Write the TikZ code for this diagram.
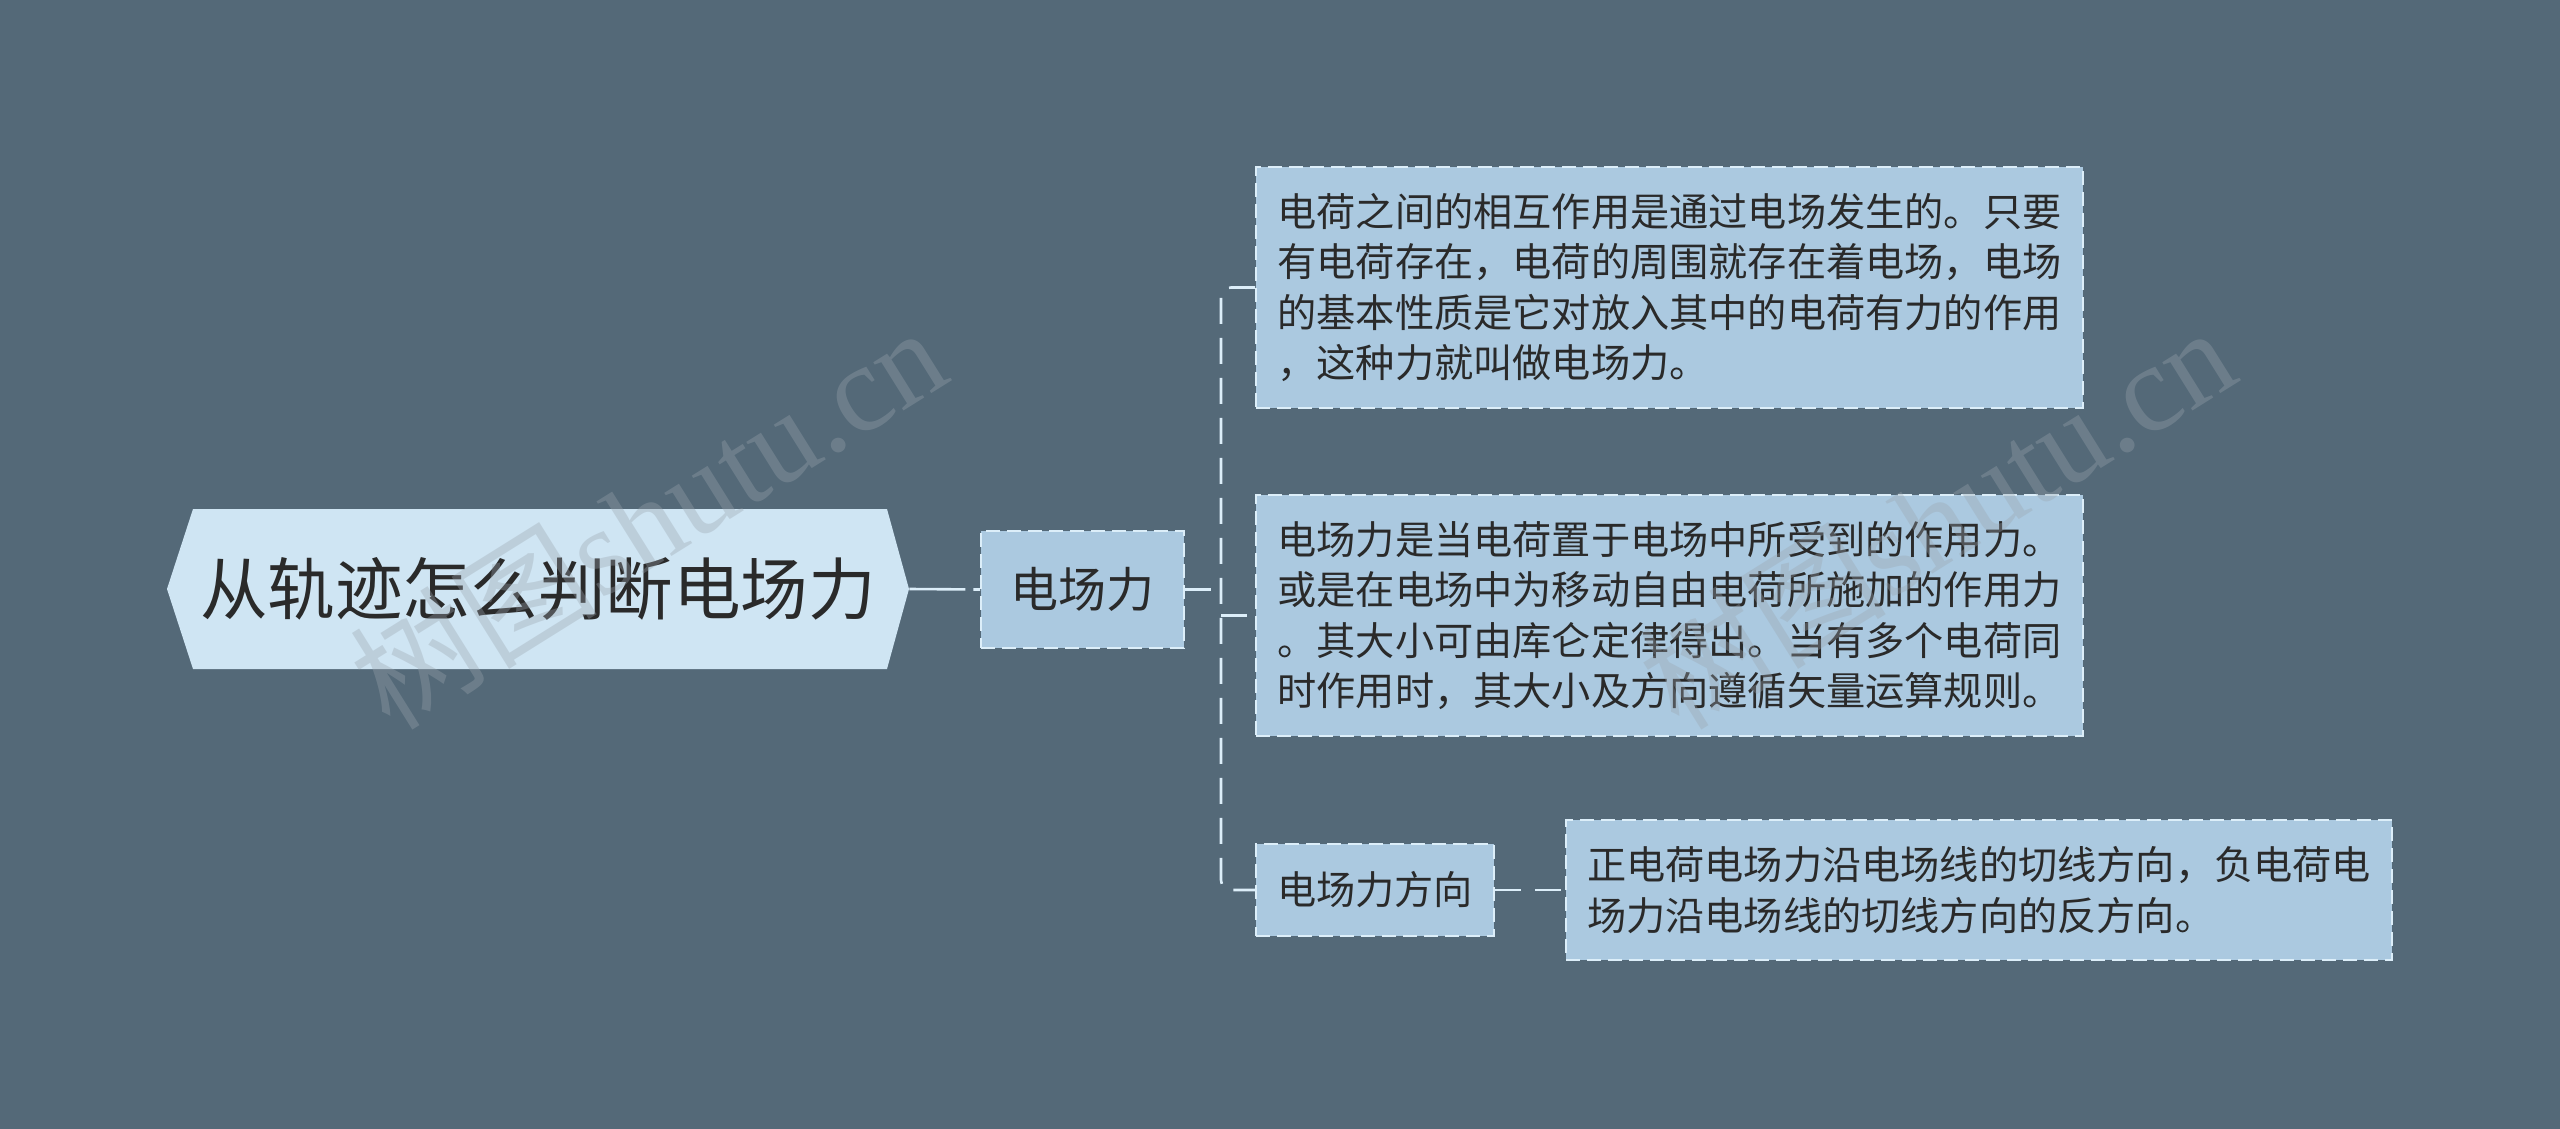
\documentclass[tikz,border=0pt]{standalone}
\usepackage{fontspec}
\setmainfont{Noto Sans CJK SC}
\newfontfamily\cjk{Noto Sans CJK SC}
\newfontfamily\wmserif{Liberation Serif}
\usetikzlibrary{calc}
\definecolor{bgc}{HTML}{546978}
\definecolor{rootfill}{HTML}{CFE5F3}
\definecolor{boxfill}{HTML}{ABC9E0}
\definecolor{edgec}{HTML}{DCEEF9}
\definecolor{txt}{HTML}{2A2A2A}
\definecolor{wmc}{HTML}{9AA5AE}
\begin{document}
\begin{tikzpicture}[x=0.5pt,y=-0.5pt,
  textbox/.style={draw=edgec, line width=1pt, dash pattern=on 7pt off 3.5pt, fill=boxfill,
    text=txt, inner sep=0pt, align=left, font=\cjk\fontsize{19.6pt}{25.3pt}\selectfont},
  conn/.style={draw=edgec, line width=1.3pt, dash pattern=on 13pt off 7pt},
  wm/.style={text=wmc, opacity=0.35, rotate=32, inner sep=0pt}]
\fill[bgc] (0,0) rectangle (2560,1129);
\useasboundingbox (0,0) rectangle (2560,1129);
% root hexagon
\fill[rootfill] (167,589) -- (193,509) -- (887,509) -- (909,589) -- (887,669) -- (193,669) -- cycle;
\node[minimum width=371pt, minimum height=80pt, inner sep=0pt, text=txt,
  font=\cjk\fontsize{33.8pt}{40pt}\selectfont] (root) at (538,589) {从轨迹怎么判断电场力};
% level 1
\node[textbox, minimum width=101.5pt, minimum height=58.5pt, align=center,
  font=\cjk\fontsize{24pt}{30pt}\selectfont] (dcl) at (1082.5,589.5) {电场力};
% leaves
\node[textbox, minimum width=413.5pt, minimum height=120.5pt] (b1) at (1669.5,287.5)
  {电荷之间的相互作用是通过电场发生的。只要\\有电荷存在，电荷的周围就存在着电场，电场\\的基本性质是它对放入其中的电荷有力的作用\\，这种力就叫做电场力。};
\node[textbox, minimum width=413.5pt, minimum height=120.5pt] (b2) at (1669.5,615.5)
  {电场力是当电荷置于电场中所受到的作用力。\\或是在电场中为移动自由电荷所施加的作用力\\。其大小可由库仑定律得出。当有多个电荷同\\时作用时，其大小及方向遵循矢量运算规则。};
\node[textbox, minimum width=119pt, minimum height=46pt, align=center] (b3) at (1375,890) {电场力方向};
\node[textbox, minimum width=413pt, minimum height=70pt] (b4) at (1979,890)
  {正电荷电场力沿电场线的切线方向，负电荷电\\场力沿电场线的切线方向的反方向。};
% connectors
\draw[draw=edgec, line width=1.3pt, dash pattern=on 28pt off 4pt] (root.east) -- (dcl.west);
\coordinate (bus) at (1221,589.5);
\draw[conn] (dcl.east) -- (bus);
\draw[conn, rounded corners=5pt] (b1.west) -| (bus) |- (b3.west);
\draw[conn] (bus |- b2.west) -- (b2.west);
\draw[conn] (b3.east) -- (b4.west);
% watermarks
\node[wm] (wm1) at (647,516) {\cjk\fontsize{62pt}{66pt}\selectfont 树图\wmserif shutu.cn};
\node[wm] (wm2) at (1936,516) {\cjk\fontsize{62pt}{66pt}\selectfont 树图\wmserif shutu.cn};
\end{tikzpicture}
\end{document}
